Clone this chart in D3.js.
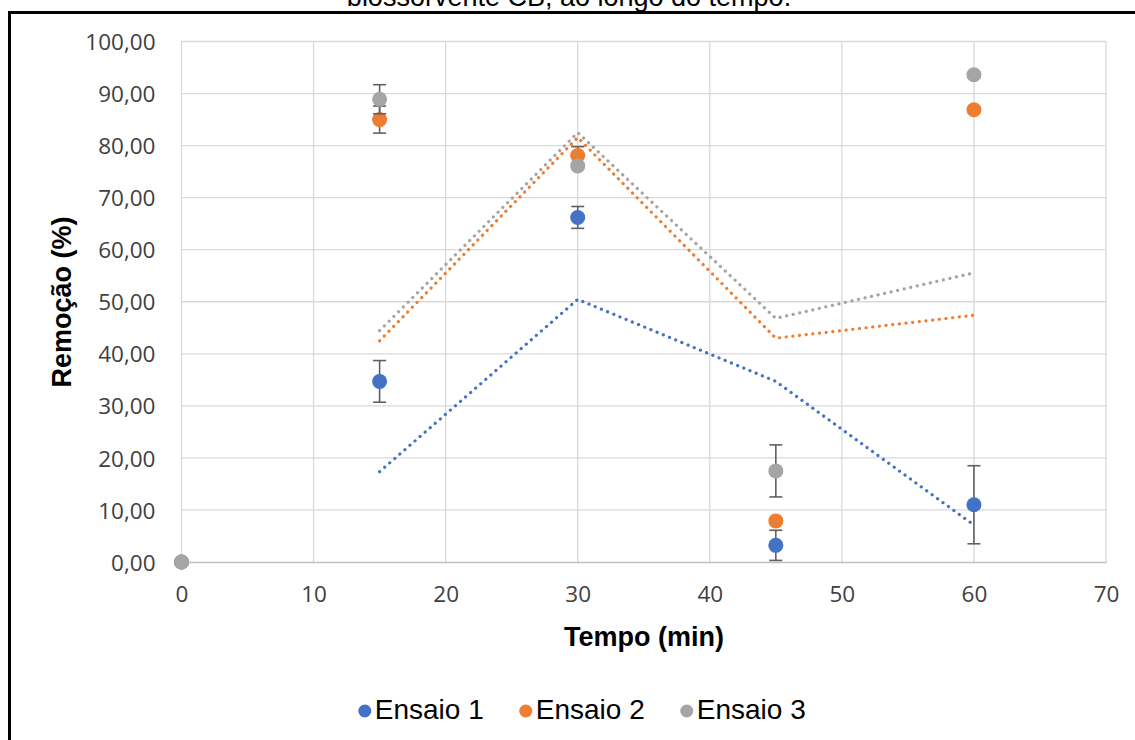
<!DOCTYPE html>
<html>
<head>
<meta charset="utf-8">
<script src="https://cdn.jsdelivr.net/npm/d3@7"></script>
<style>
  html, body { margin: 0; padding: 0; background: #fff; }
  svg { display: block; }
</style>
</head>
<body>
<svg id="chart" width="1135" height="740"></svg>
<script>
// Sampling times (min)
const tempo = [0, 15, 30, 45, 60];

// Removal (%) per run
const ensaio1 = [0, 34.7, 66.2, 3.2, 11.0];
const ensaio2 = [0, 85.0, 78.1, 7.9, 86.9];
const ensaio3 = [0, 88.9, 76.1, 17.5, 93.6];

// Error-bar half widths (%)
const erro1 = [0, 4.0, 2.1, 2.9, 7.5];
const erro2 = [0, 2.6, 1.7, 0.5, 0.5];
const erro3 = [0, 2.8, 0.5, 5.0, 0.5];

const seriesNames = ["Ensaio 1", "Ensaio 2", "Ensaio 3"];
const xTicks = [0, 10, 20, 30, 40, 50, 60, 70];
const yTicks = [0, 10, 20, 30, 40, 50, 60, 70, 80, 90, 100];
const titleText = "biossorvente CB, ao longo do tempo.";
const xTitle = "Tempo (min)";
const yTitle = "Remoção (%)";

const colors = ["#4472C4", "#ED7D31", "#A5A5A5"];
const series = [
  { name: seriesNames[0], values: ensaio1, err: erro1, color: colors[0] },
  { name: seriesNames[1], values: ensaio2, err: erro2, color: colors[1] },
  { name: seriesNames[2], values: ensaio3, err: erro3, color: colors[2] }
];

const svg = d3.select("#chart");

// Frame around the figure
svg.append("rect")
  .attr("x", 9.5).attr("y", 12.5)
  .attr("width", 1200).attr("height", 800)
  .attr("fill", "none").attr("stroke", "#000").attr("stroke-width", 3);

// Caption (continues above the figure)
svg.append("text")
  .attr("x", 569).attr("y", 6)
  .attr("text-anchor", "middle")
  .attr("font-family", "Liberation Sans, Arial, sans-serif")
  .attr("font-size", 27)
  .text(titleText);

const x = d3.scaleLinear().domain([0, 70]).range([181.5, 1106]);
const y = d3.scaleLinear().domain([0, 100]).range([562, 41.5]);

const tickFmt = v => d3.format(".2f")(v).replace(".", ",");

// Gridlines
const grid = svg.append("g");
grid.selectAll("line.h").data(yTicks.filter(v => v > 0)).join("line")
  .attr("x1", x(0)).attr("x2", x(70))
  .attr("y1", d => y(d)).attr("y2", d => y(d))
  .attr("stroke", "#d9d9d9").attr("stroke-width", 1.3);
grid.selectAll("line.v").data(xTicks).join("line")
  .attr("x1", d => x(d)).attr("x2", d => x(d))
  .attr("y1", y(0)).attr("y2", y(100))
  .attr("stroke", "#d9d9d9").attr("stroke-width", 1.3);

// Axes
const yAxis = svg.append("g")
  .attr("transform", `translate(${x(0)},0)`)
  .call(d3.axisLeft(y).tickValues(yTicks).tickFormat(tickFmt).tickSize(0).tickPadding(26));
yAxis.select(".domain").remove();

const xAxis = svg.append("g")
  .attr("transform", `translate(0,${y(0)})`)
  .call(d3.axisBottom(x).tickValues(xTicks).tickFormat(d3.format("d")).tickSize(0).tickPadding(38));
xAxis.select(".domain").attr("stroke", "#bfbfbf").attr("stroke-width", 1.5);

svg.selectAll(".tick text")
  .attr("font-family", "Open Sans, sans-serif")
  .attr("font-size", 22.5)
  .attr("fill", "#404040");
yAxis.selectAll(".tick text").attr("dy", "0.36em");
xAxis.selectAll(".tick text").attr("dy", "0.1em");

// Axis titles
svg.append("text")
  .attr("x", 644).attr("y", 646)
  .attr("text-anchor", "middle")
  .attr("font-family", "Liberation Sans, Arial, sans-serif")
  .attr("font-size", 27).attr("font-weight", "bold")
  .text(xTitle);

svg.append("text")
  .attr("transform", "translate(71,302) rotate(-90)")
  .attr("text-anchor", "middle")
  .attr("font-family", "Liberation Sans, Arial, sans-serif")
  .attr("font-size", 27).attr("font-weight", "bold")
  .text(yTitle);

// Two-period moving-average trendlines (from the second point on)
const movingAvg = vals => vals.slice(1).map((v, i) => ({ t: tempo[i + 1], v: (vals[i] + v) / 2 }));
const line = d3.line().x(d => x(d.t)).y(d => y(d.v));

const trends = svg.append("g");
series.forEach(s => {
  trends.append("path")
    .datum(movingAvg(s.values))
    .attr("d", line)
    .attr("fill", "none")
    .attr("stroke", s.color)
    .attr("stroke-width", 3.2)
    .attr("stroke-linecap", "round")
    .attr("stroke-dasharray", "0.1,6.6");
});

// Points with error bars
const marks = svg.append("g");
series.forEach(s => {
  const pts = tempo.map((t, i) => ({ t, v: s.values[i], e: s.err[i] }));
  const eb = marks.append("g")
    .attr("stroke", "#606060").attr("stroke-width", 1.6);
  pts.filter(p => p.e > 0).forEach(p => {
    eb.append("line")
      .attr("x1", x(p.t)).attr("x2", x(p.t))
      .attr("y1", y(p.v - p.e)).attr("y2", y(p.v + p.e));
    [p.v - p.e, p.v + p.e].forEach(v => {
      eb.append("line")
        .attr("x1", x(p.t) - 6.5).attr("x2", x(p.t) + 6.5)
        .attr("y1", y(v)).attr("y2", y(v));
    });
  });
  marks.append("g").selectAll("circle").data(pts).join("circle")
    .attr("cx", d => x(d.t)).attr("cy", d => y(d.v))
    .attr("r", 7.5)
    .attr("fill", s.color);
});

// Legend
const legend = svg.append("g");
let cursor = 0;
const items = [];
series.forEach(s => {
  const g = legend.append("g");
  g.append("circle").attr("cx", 0).attr("cy", -8).attr("r", 6.5).attr("fill", s.color);
  const t = g.append("text")
    .attr("x", 10).attr("y", 0)
    .attr("font-family", "Liberation Sans, Arial, sans-serif")
    .attr("font-size", 28)
    .attr("fill", "#000")
    .text(s.name);
  const w = t.node().getComputedTextLength();
  items.push({ g, offset: cursor });
  cursor += 10 + w + 42;
});
const totalW = cursor - 42 + 6.5;
const startX = 582 - totalW / 2 + 6.5;
items.forEach(it => it.g.attr("transform", `translate(${startX + it.offset},719)`));
</script>
</body>
</html>
